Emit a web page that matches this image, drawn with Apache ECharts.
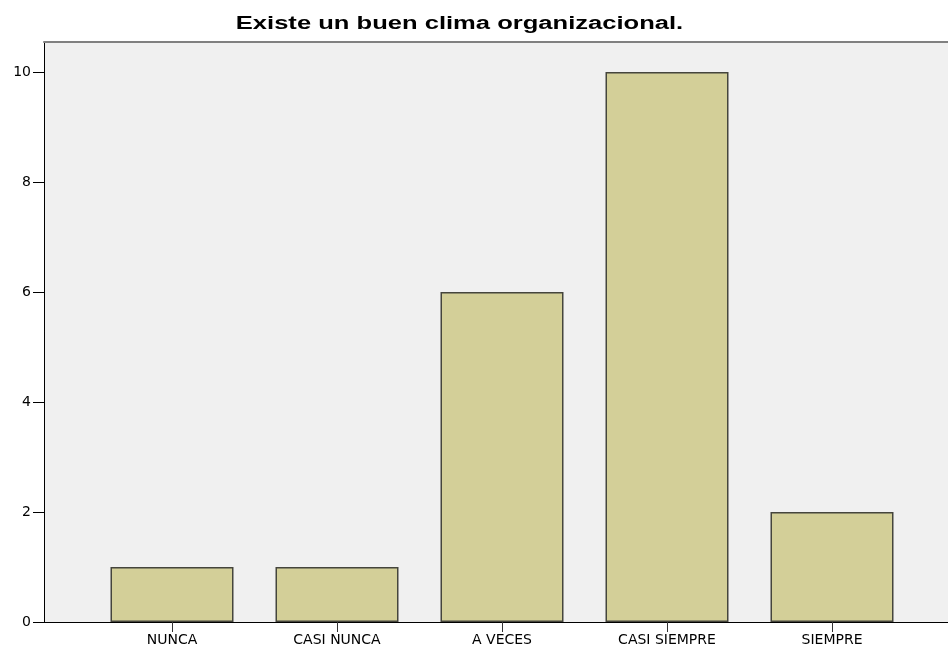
<!DOCTYPE html>
<html>
<head>
<meta charset="utf-8">
<script src="https://cdn.jsdelivr.net/npm/echarts@6/dist/echarts.min.js"></script>
<style>
  html, body { margin: 0; padding: 0; background: #fff; }
  #chart { width: 948px; height: 650px; }
</style>
</head>
<body>
<div id="chart"></div>
<script>
  // datos del gráfico
  var categorias = ['NUNCA', 'CASI NUNCA', 'A VECES', 'CASI SIEMPRE', 'SIEMPRE'];
  var frecuencias = [1, 1, 6, 10, 2];
  var titulo = 'Existe un buen clima organizacional.';

  var yMax = 10.545;
  var fuente = '"DejaVu Sans", sans-serif';

  var myChart = echarts.init(document.getElementById('chart'));
  myChart.setOption({
    backgroundColor: '#ffffff',
    animation: false,
    // titulo (el original esta estirado en horizontal)
    graphic: [{
      type: 'text',
      x: 459.5,
      y: 24,
      scaleX: 1.42,
      style: {
        text: titulo,
        fontFamily: '"Liberation Sans", Arial, sans-serif',
        fontSize: 18,
        fontWeight: 'bold',
        fill: '#000',
        align: 'center',
        verticalAlign: 'middle'
      }
    }],
    grid: [
      // area del fondo con el eje Y
      { left: 44, right: 0, top: 42, bottom: 28, show: true, backgroundColor: '#f0f0f0', borderWidth: 0 },
      // area de las barras
      { left: 89.5, width: 825, top: 42, bottom: 28 }
    ],
    xAxis: [
      {
        gridIndex: 0, type: 'value', min: 0, max: 1, position: 'bottom',
        axisLine: { show: true, lineStyle: { color: '#000', width: 1 } },
        axisTick: { show: false }, axisLabel: { show: false }, splitLine: { show: false }
      },
      {
        gridIndex: 0, type: 'value', min: 0, max: 1, position: 'top',
        axisLine: { show: true, lineStyle: { color: '#808080', width: 2 } },
        axisTick: { show: false }, axisLabel: { show: false }, splitLine: { show: false }
      },
      {
        gridIndex: 1, type: 'category', data: categorias, position: 'bottom',
        axisLine: { show: false },
        axisTick: { show: true, alignWithLabel: true, length: 10, lineStyle: { color: '#333' } },
        axisLabel: { fontFamily: fuente, fontSize: 14, color: '#000', margin: 11 },
        splitLine: { show: false }
      }
    ],
    yAxis: [
      {
        gridIndex: 0, type: 'value', min: 0, max: yMax, interval: 2,
        axisLine: { show: true, lineStyle: { color: '#000', width: 1 } },
        axisTick: { show: true, length: 11, lineStyle: { color: '#000' } },
        axisLabel: {
          fontFamily: fuente, fontSize: 14, color: '#000', margin: 13,
          showMaxLabel: false,
          formatter: function (v) { return v > 10 ? '' : v; }
        },
        splitLine: { show: false }
      },
      {
        gridIndex: 1, type: 'value', min: 0, max: yMax, show: false
      }
    ],
    series: [{
      type: 'bar',
      xAxisIndex: 2,
      yAxisIndex: 1,
      barWidth: 123,
      itemStyle: { color: '#d3cf98', borderColor: '#45453c', borderWidth: 1.5 },
      data: frecuencias
    }]
  });
</script>
</body>
</html>
